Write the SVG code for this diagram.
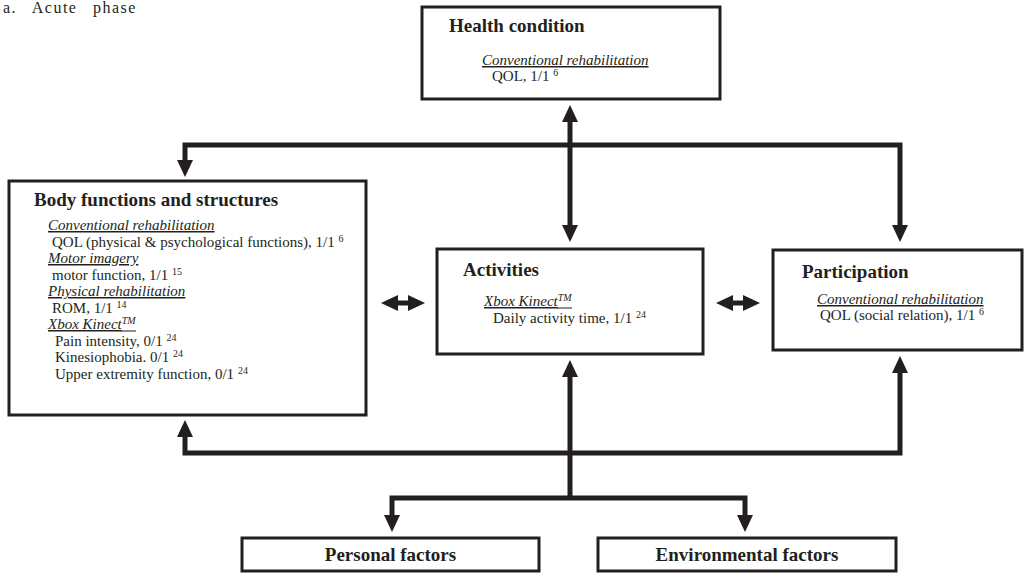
<svg xmlns="http://www.w3.org/2000/svg" width="1030" height="573" viewBox="0 0 1030 573">
<defs>
<style>
.box{fill:#fff;stroke:#231f20;stroke-width:3}
.t{font-family:"Liberation Serif","Times New Roman",serif;fill:#231f20}
.title{font-size:19px;font-weight:bold}
.h{font-size:15px;font-style:italic;text-decoration:underline}
.hi{font-size:15px;font-style:italic}
.u{text-decoration:underline}
.b{font-size:15px}
.sup{font-size:10px}
.ul{stroke:#231f20;stroke-width:1}
.con{fill:none;stroke:#231f20;stroke-width:5}
</style>
<marker id="ah" viewBox="0 0 17 16" refX="7" refY="8" markerWidth="17" markerHeight="16" markerUnits="userSpaceOnUse" orient="auto-start-reverse">
<path d="M0,0 L17,8 L0,16 z" fill="#231f20"/>
</marker>
</defs>
<rect width="1030" height="573" fill="#fff"/>
<text class="t" x="3" y="13" font-size="16" letter-spacing="1.5" word-spacing="10">a. Acute phase</text>

<g id="connectors">
<path class="con" d="M185,167 L185,145 L900,145 L900,232" marker-start="url(#ah)" marker-end="url(#ah)"/>
<path class="con" d="M570,115 L570,232" marker-start="url(#ah)" marker-end="url(#ah)"/>
<path class="con" d="M185,430 L185,453 L900,453 L900,366" marker-start="url(#ah)" marker-end="url(#ah)"/>
<path class="con" d="M570,370 L570,498" marker-start="url(#ah)"/>
<path class="con" d="M392,522 L392,498 L745,498 L745,522" marker-start="url(#ah)" marker-end="url(#ah)"/>
<path class="con" d="M391,303 L415,303" marker-start="url(#ah)" marker-end="url(#ah)"/>
<path class="con" d="M726,303 L750,303" marker-start="url(#ah)" marker-end="url(#ah)"/>
</g>

<g id="health">
<rect class="box" x="422" y="7" width="298" height="92"/>
<text class="t title" x="449" y="32">Health condition</text>
<text class="t h" x="482" y="65">Conventional rehabilitation</text>
<text class="t b" x="492" y="81">QOL, 1/1 <tspan class="sup" dy="-5">6</tspan></text>
</g>

<g id="body">
<rect class="box" x="9" y="181" width="357" height="234"/>
<text class="t title" x="34" y="206">Body functions and structures</text>
<text class="t h" x="48" y="230">Conventional rehabilitation</text>
<text class="t b" x="52" y="246.5">QOL (physical &amp; psychological functions), 1/1 <tspan class="sup" dy="-5">6</tspan></text>
<text class="t h" x="48" y="263">Motor imagery</text>
<text class="t b" x="52" y="279.5">motor function, 1/1 <tspan class="sup" dy="-5">15</tspan></text>
<text class="t h" x="48" y="296">Physical rehabilitation</text>
<text class="t b" x="52" y="312.5">ROM, 1/1 <tspan class="sup" dy="-5">14</tspan></text>
<text class="t hi" x="48" y="329"><tspan class="u">Xbox Kinect</tspan><tspan class="sup" dy="-5">TM</tspan></text>
<line class="ul" x1="121" y1="331" x2="136" y2="331"/>
<text class="t b" x="55" y="345.5">Pain intensity, 0/1 <tspan class="sup" dy="-5">24</tspan></text>
<text class="t b" x="55" y="362">Kinesiophobia. 0/1 <tspan class="sup" dy="-5">24</tspan></text>
<text class="t b" x="55" y="378.5">Upper extremity function, 0/1 <tspan class="sup" dy="-5">24</tspan></text>
</g>

<g id="activities">
<rect class="box" x="437" y="249" width="266" height="105"/>
<text class="t title" x="463" y="276">Activities</text>
<text class="t hi" x="484" y="306"><tspan class="u">Xbox Kinect</tspan><tspan class="sup" dy="-5">TM</tspan></text>
<line class="ul" x1="557" y1="308" x2="572" y2="308"/>
<text class="t b" x="493" y="323">Daily activity time, 1/1 <tspan class="sup" dy="-5">24</tspan></text>
</g>

<g id="participation">
<rect class="box" x="773" y="250" width="249" height="100"/>
<text class="t title" x="802" y="278">Participation</text>
<text class="t h" x="817" y="304">Conventional rehabilitation</text>
<text class="t b" x="820" y="320">QOL (social relation), 1/1 <tspan class="sup" dy="-5">6</tspan></text>
</g>

<g id="personal">
<rect class="box" x="242" y="538" width="297" height="33"/>
<text class="t title" x="390.5" y="561" text-anchor="middle">Personal factors</text>
</g>

<g id="environmental">
<rect class="box" x="598" y="538" width="298" height="33"/>
<text class="t title" x="747" y="561" text-anchor="middle">Environmental factors</text>
</g>
</svg>
